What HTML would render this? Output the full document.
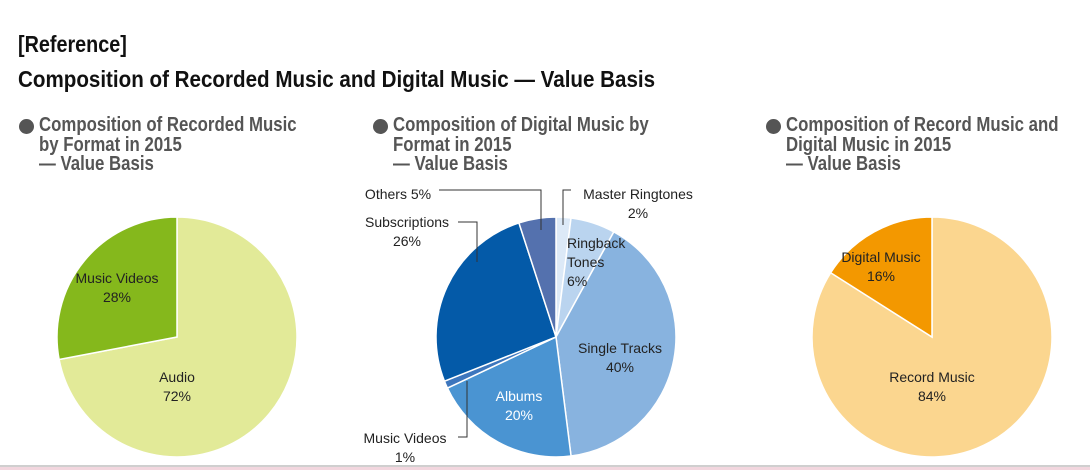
<!DOCTYPE html>
<html><head><meta charset="utf-8"><style>
body{margin:0;width:1090px;height:470px;background:#fff;overflow:hidden;position:relative;font-family:"Liberation Sans",sans-serif}
.t{position:absolute;white-space:nowrap;transform-origin:0 0;transform:scaleX(0.84);font-weight:bold}
.h1{left:18px;top:31px;font-size:23px;color:#111;transform:scaleX(0.86)}
.h2{left:18px;top:66px;font-size:23px;color:#111;transform:scaleX(0.895)}
.sub{font-size:20px;color:#555;line-height:19.5px;top:116px}
.dot{position:absolute;width:15px;height:15px;border-radius:50%;background:#555;top:119px}
.l{position:absolute;font-size:14px;color:#222;text-align:center;line-height:19px;white-space:nowrap;transform:translateX(-50%)}
</style></head><body>
<div class="t h1">[Reference]</div>
<div class="t h2">Composition of Recorded Music and Digital Music — Value Basis</div>
<div class="dot" style="left:19px"></div>
<div class="t sub" style="left:39px">Composition of Recorded Music<br>by Format in 2015<br>— Value Basis</div>
<div class="dot" style="left:373px"></div>
<div class="t sub" style="left:393px">Composition of Digital Music by<br>Format in 2015<br>— Value Basis</div>
<div class="dot" style="left:766px"></div>
<div class="t sub" style="left:786px">Composition of Record Music and<br>Digital Music in 2015<br>— Value Basis</div>
<svg id="s" width="1090" height="470" style="position:absolute;left:0;top:0">
<rect x="0" y="465" width="1090" height="2" fill="#cfcfcf"/>
<rect x="0" y="467" width="1090" height="3" fill="#f2d6de"/>
<g fill="none" stroke="#333" stroke-width="1">
<polyline points="439,190 541,190 541,230"/>
<polyline points="458,222 477,222 477,262"/>
<polyline points="458,437 467,437 467,381"/>
<polyline points="571,190 563,190 563,225"/>
</g>
</svg>
<div class="l" style="left:117px;top:269px">Music Videos<br>28%</div>
<div class="l" style="left:177px;top:368px">Audio<br>72%</div>
<div class="l" style="left:398px;top:185px">Others 5%</div>
<div class="l" style="left:407px;top:213px">Subscriptions<br>26%</div>
<div class="l" style="left:638px;top:185px">Master Ringtones<br>2%</div>
<div class="l" style="top:234px;text-align:left;transform:none;left:567px">Ringback<br>Tones<br>6%</div>
<div class="l" style="left:620px;top:339px">Single Tracks<br>40%</div>
<div class="l" style="left:519px;top:387px;color:#fff">Albums<br>20%</div>
<div class="l" style="left:405px;top:429px">Music Videos<br>1%</div>
<div class="l" style="left:881px;top:248px">Digital Music<br>16%</div>
<div class="l" style="left:932px;top:368px">Record Music<br>84%</div>
<script>
var s=document.getElementById('s');
function pie(cx,cy,r,d){var a=0,h='';d.forEach(function(p){var a0=a*Math.PI*2,a1=(a+p[0])*Math.PI*2;a+=p[0];
var x0=cx+r*Math.sin(a0),y0=cy-r*Math.cos(a0),x1=cx+r*Math.sin(a1),y1=cy-r*Math.cos(a1);
h+='<path d="M'+cx+','+cy+'L'+x0+','+y0+'A'+r+','+r+' 0 '+(p[0]>0.5?1:0)+' 1 '+x1+','+y1+'Z" fill="'+p[1]+'" stroke="#fff" stroke-width="1.5"/>';});
s.insertAdjacentHTML('afterbegin',h);}
pie(177,337,120,[[.72,'#e2ea98'],[.28,'#85b81c']]);
pie(556,337,120,[[.02,'#dce9f7'],[.06,'#bad4ef'],[.40,'#88b3df'],[.20,'#4a94d2'],[.01,'#3d76bd'],[.26,'#045aa8'],[.05,'#5471ae']]);
pie(932,337,120,[[.84,'#fbd68f'],[.16,'#f39800']]);
</script>
</body></html>
